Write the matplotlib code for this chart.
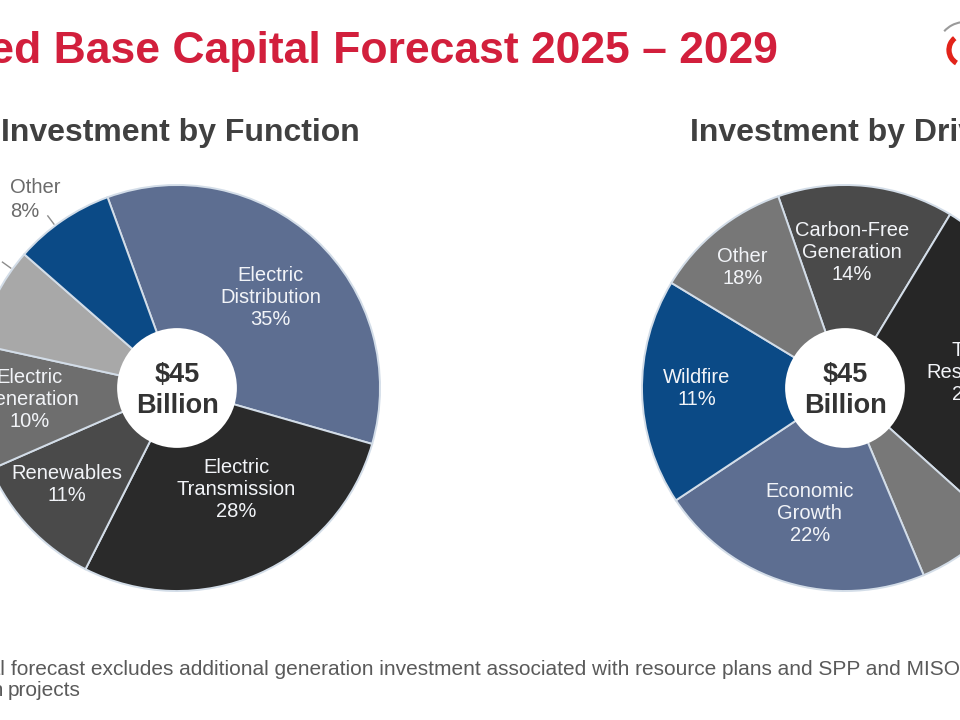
import numpy as np
import matplotlib
matplotlib.use("Agg")
import matplotlib.pyplot as plt
from matplotlib.patches import Circle, Arc

plt.rcParams['font.family'] = ['Liberation Sans', 'DejaVu Sans']

# --- data ---
function_labels = ['Electric\nDistribution', 'Electric\nTransmission', 'Renewables',
                   'Electric\nGeneration', 'Natural Gas', 'Other']
function_pct = [35, 28, 11, 10, 8, 8]

driver_labels = ['Carbon-Free\nGeneration', 'T&D\nResiliency', '', 'Economic\nGrowth',
                 'Wildfire', 'Other']
driver_share = [14, 28, 7, 22, 18, 11]          # wedge sizes as drawn
driver_pct_text = ['14%', '28%', '', '22%', '11%', '18%']   # percentages printed on slide

total_text = '\\$45\nBillion'

# --- styles ---
W, H = 960, 720
NAVY = '#0b4a86'
SLATE = '#5d6e91'
EDGE = '#d3dde8'
function_colors = [SLATE, '#2a2a2a', '#4a4a4a', '#6e6e6e', '#a8a8a8', NAVY]
driver_colors = ['#4a4a4a', '#262626', '#787878', SLATE, NAVY, '#777777']

# inside label placement: (fraction of radius, angle offset from wedge middle); None = outside
function_pos = [(0.64, -3), (0.58, 6.5), (0.72, -2), (0.73, -1), None, None]
driver_pos = [(0.67, 3), (0.63, -1.5), None, (0.64, 1), (0.73, -1), (0.78, 1.4)]

LIM = 1.6

fig = plt.figure(figsize=(9.6, 7.2), dpi=100)
bg = fig.add_axes([0, 0, 1, 1])
bg.set_xlim(0, W)
bg.set_ylim(H, 0)
bg.axis('off')


def pie_axes(cx, cy, r):
    s = r * LIM
    return fig.add_axes([(cx - s) / W, (H - cy - s) / H, 2 * s / W, 2 * s / H])


def draw_pie(ax, sizes, colors, start, labels, pcts, pos):
    wedges, _ = ax.pie(sizes, colors=colors, startangle=start, counterclock=False,
                       radius=1, wedgeprops=dict(edgecolor=EDGE, linewidth=1.4))
    ax.add_patch(Circle((0, 0), 0.295, facecolor='white', edgecolor='none', zorder=5))
    ax.text(0, -0.01, total_text, ha='center', va='center', fontsize=19.5,
            fontweight='bold', color='#333333', linespacing=1.25, zorder=6)
    for w, lab, pct, p in zip(wedges, labels, pcts, pos):
        if p is None or not lab:
            continue
        d, off = p
        th = np.deg2rad((w.theta1 + w.theta2) / 2 + off)
        ax.text(d * np.cos(th), d * np.sin(th), f'{lab}\n{pct}', ha='center', va='center',
                fontsize=14.5, color='#f2f4f8', linespacing=1.2, zorder=4)
    ax.set_xlim(-LIM, LIM)
    ax.set_ylim(-LIM, LIM)
    ax.set_aspect('equal')
    ax.axis('off')
    return wedges


def outside_label(ax, wedge, text, off, d_text):
    th = np.deg2rad((wedge.theta1 + wedge.theta2) / 2 + off)
    c, s = np.cos(th), np.sin(th)
    ax.plot([1.01 * c, 1.06 * c], [1.01 * s, 1.06 * s], color='#8c8c8c', lw=1, clip_on=False)
    ax.text(d_text * c, d_text * s, text, ha='center', va='center', fontsize=14.5,
            color='#6b6b6b', multialignment='left', linespacing=1.3)


# left pie: investment by function
ax1 = pie_axes(177, 388, 203)
w1 = draw_pie(ax1, function_pct, function_colors, 110, function_labels,
              [f'{v}%' for v in function_pct], function_pos)
outside_label(ax1, w1[5], f'{function_labels[5]}\n{function_pct[5]}%', 2.5, 1.16)
outside_label(ax1, w1[4], f'{function_labels[4]}\n{function_pct[4]}%', -9, 1.4)

# right pie: investment by driver
ax2 = pie_axes(845, 388, 203)
draw_pie(ax2, driver_share, driver_colors, 109.2, driver_labels, driver_pct_text, driver_pos)

# titles
bg.text(778, 63, 'Regulated Base Capital Forecast 2025 \u2013 2029', ha='right', va='baseline',
        fontsize=32, fontweight='bold', color='#d21f3c')
bg.text(1, 141, 'Investment by Function', ha='left', va='baseline', fontsize=23,
        fontweight='bold', color='#404040')
bg.text(690, 141, 'Investment by Driver', ha='left', va='baseline', fontsize=23,
        fontweight='bold', color='#404040')

# footnote
note_kw = dict(va='baseline', fontsize=15, color='#5a5a5a')
bg.text(5, 675, 'Capital', ha='right', **note_kw)
bg.text(11, 675, 'forecast excludes additional generation investment associated with '
        'resource plans and SPP and MISO', ha='left', **note_kw)
bg.text(4, 696, 'transmission', ha='right', **note_kw)
bg.text(8, 696, 'projects', ha='left', **note_kw)

# corner of the logo
bg.add_patch(Arc((965, 50), 56, 56, theta1=222, theta2=262, color='#9a9a9a', lw=1.5))
bg.add_patch(Arc((964, 50), 30, 30, theta1=120, theta2=232, color='#e2231a', lw=3.8))

fig.savefig('out.png', dpi=100, facecolor='white')
